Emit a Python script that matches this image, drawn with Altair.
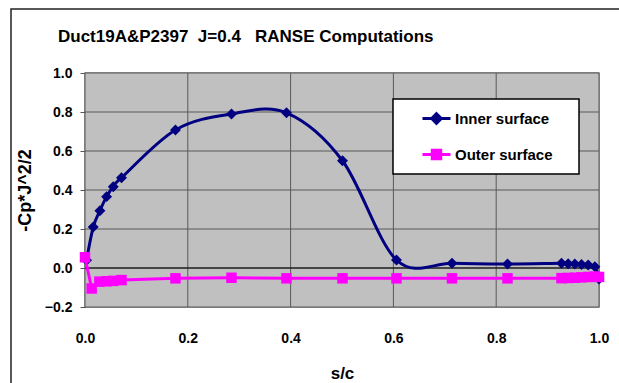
import altair as alt
import pandas as pd

# ---- data ----
series_names = ["Inner surface", "Outer surface"]
series_colors = ["#000080", "#FF00FF"]

inner_s = [0.003, 0.016, 0.029, 0.042, 0.055, 0.071, 0.176, 0.285, 0.392, 0.501,
           0.606, 0.714, 0.822, 0.927, 0.940, 0.953, 0.966, 0.979, 0.992, 1.000]
inner_cp = [0.040, 0.210, 0.294, 0.366, 0.417, 0.463, 0.708, 0.790, 0.796, 0.550,
            0.041, 0.024, 0.020, 0.024, 0.022, 0.020, 0.018, 0.015, 0.007, -0.056]

outer_s = [0.000, 0.013, 0.028, 0.042, 0.055, 0.071, 0.176, 0.285, 0.392, 0.501,
           0.606, 0.714, 0.822, 0.927, 0.940, 0.953, 0.966, 0.979, 0.992, 1.000]
outer_cp = [0.055, -0.105, -0.070, -0.068, -0.066, -0.062, -0.053, -0.050, -0.053, -0.053,
            -0.053, -0.053, -0.053, -0.052, -0.051, -0.050, -0.048, -0.046, -0.044, -0.046]

x_ticks = [0.0, 0.2, 0.4, 0.6, 0.8, 1.0]
y_ticks = [-0.2, 0.0, 0.2, 0.4, 0.6, 0.8, 1.0]

title_text = "Duct19A&P2397\u00a0\u00a0J=0.4\u00a0\u00a0\u00a0RANSE Computations"
x_title = "s/c"
y_title = "-Cp*J^2/2"

FONT = "Liberation Sans"

inner_df = pd.DataFrame({"s": inner_s, "cp": inner_cp, "series": series_names[0]})
outer_df = pd.DataFrame({"s": outer_s, "cp": outer_cp, "series": series_names[1]})
all_df = pd.concat([inner_df, outer_df], ignore_index=True)

x_scale = alt.Scale(domain=[0, 1], nice=False, zero=False)
y_scale = alt.Scale(domain=[-0.2, 1.0], nice=False, zero=False)

x_axis = alt.Axis(values=x_ticks, format=".1f", title=x_title, tickSize=0,
                  labelPadding=24, titlePadding=20, labelFontSize=14,
                  titleFontSize=17, domain=False, labelFlush=False,
                  labelOverlap=False, grid=False)
y_axis = alt.Axis(values=y_ticks, format=".1f", title=y_title, tickSize=5,
                  labelPadding=8, titlePadding=10, labelFontSize=14,
                  titleFontSize=18, domainColor="#555555", tickColor="#555555",
                  labelFlush=False, labelOverlap=False, grid=False)

x_enc = alt.X("s:Q", scale=x_scale, axis=x_axis)
y_enc = alt.Y("cp:Q", scale=y_scale, axis=y_axis)

# plot-area background (decoration)
plot_bg = alt.Chart(pd.DataFrame({"b": [0]})).mark_rect(
    color="#C0C0C0"
).encode(x=alt.value(0), x2=alt.value(514), y=alt.value(0), y2=alt.value(234))

# gridlines drawn from tick values through the scales
vgrid = alt.Chart(pd.DataFrame({"s": x_ticks})).mark_rule(
    color="#595959", strokeWidth=1
).encode(x=x_enc)
hgrid = alt.Chart(pd.DataFrame({"cp": y_ticks})).mark_rule(
    color="#595959", strokeWidth=1
).encode(y=y_enc)
zero_rule = alt.Chart(pd.DataFrame({"cp": [0.0]})).mark_rule(
    color="black", strokeWidth=1.2
).encode(y=y_enc)

inner_line = alt.Chart(inner_df).mark_line(
    interpolate="cardinal", color=series_colors[0], strokeWidth=3
).encode(x=x_enc, y=y_enc)
inner_pts = alt.Chart(inner_df).mark_point(
    shape="diamond", filled=True, color=series_colors[0], size=120, opacity=1
).encode(x=x_enc, y=y_enc)
outer_line = alt.Chart(outer_df).mark_line(
    color=series_colors[1], strokeWidth=3
).encode(x=x_enc, y=y_enc)
outer_pts = alt.Chart(outer_df).mark_point(
    shape="square", filled=True, color=series_colors[1], size=110, opacity=1
).encode(x=x_enc, y=y_enc)

legend_paths = [
    "M-1,0L1,0M0,-0.34L0.34,0L0,0.34L-0.34,0Z",
    "M-1,0L1,0M-0.3,-0.3L0.3,-0.3L0.3,0.3L-0.3,0.3Z",
]
leg = alt.Legend(
    title=None, orient="none", legendX=308, legendY=26,
    padding=4, rowPadding=9, symbolSize=784, symbolStrokeWidth=3,
    symbolOpacity=1, symbolOffset=24, labelOffset=3,
    labelFont=FONT, labelFontSize=15, labelFontWeight="bold", labelColor="black",
)
legend_layer = alt.Chart(all_df).mark_point(filled=True).encode(
    fill=alt.Fill("series:N", scale=alt.Scale(domain=series_names, range=series_colors), legend=leg),
    stroke=alt.Stroke("series:N", scale=alt.Scale(domain=series_names, range=series_colors), legend=leg),
    shape=alt.Shape("series:N", scale=alt.Scale(domain=series_names, range=legend_paths), legend=leg),
).transform_filter("false")

# legend box (decoration)
legend_box = alt.Chart(pd.DataFrame({"b": [0]})).mark_rect(
    fill="white", stroke="black", strokeWidth=1.5
).encode(x=alt.value(308), x2=alt.value(494), y=alt.value(26), y2=alt.value(101))

# chart title as text
title_mark = alt.Chart(pd.DataFrame({"t": [0]})).mark_text(
    text=title_text, align="left", baseline="alphabetic", font=FONT,
    fontSize=17, fontWeight="bold", color="black"
).encode(x=alt.value(-27), y=alt.value(-31))

# outer chart frame (decoration)
frame = alt.Chart(pd.DataFrame({"f": [0]})).mark_rect(
    fill="white", fillOpacity=0, stroke="#222222", strokeWidth=1.5
).encode(x=alt.value(-74), x2=alt.value(700), y=alt.value(-64), y2=alt.value(420))

chart = alt.layer(
    plot_bg, vgrid, hgrid, zero_rule, inner_line, inner_pts, outer_line, outer_pts,
    legend_box, title_mark, frame, legend_layer
).properties(
    width=514, height=234,
    autosize=alt.AutoSizeParams(type="none"),
    padding={"left": 85, "top": 73, "right": 20, "bottom": 76},
    background="white",
).configure_view(
    stroke="#808080", strokeWidth=1.5
).configure_axis(
    labelFont=FONT, titleFont=FONT, labelFontWeight="bold", titleFontWeight="bold",
    labelColor="black", titleColor="black",
).configure_legend(
    fillColor="transparent", strokeColor="transparent"
)

chart.save("out.html", embed_options={"renderer": "svg", "actions": False})
